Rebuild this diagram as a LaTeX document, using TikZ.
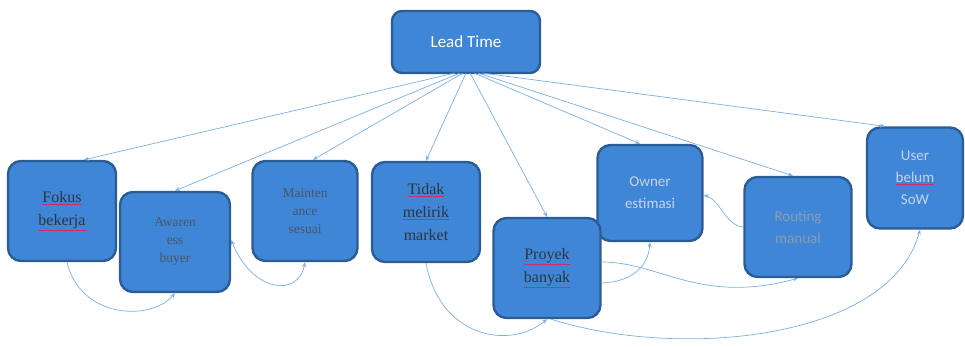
\documentclass[tikz,border=0pt]{standalone}
\usepackage{fontspec}
\setmainfont{Liberation Serif}
\newfontfamily\calib{Carlito}
\usetikzlibrary{arrows.meta}
\definecolor{boxblue}{HTML}{3F86D6}
\definecolor{boxedge}{HTML}{2C5C96}
\definecolor{linkblue}{HTML}{78B0E4}
\definecolor{txtdark}{HTML}{2E3440}
\definecolor{txtsoft}{HTML}{4A5566}
\definecolor{squig}{HTML}{C8306A}
\definecolor{sanslight}{HTML}{C6D3E4}
\definecolor{sansmid}{HTML}{8E9CB2}
\newcommand\sqw[1]{{\color{squig}\underline{\textcolor{txtdark}{#1}}}}
\tikzset{
  card/.style={draw=boxedge, line width=2.4pt, fill=boxblue, rounded corners=13pt,
    align=center, inner sep=2pt, font=\fontsize{16}{23}\selectfont, text=txtdark},
  smallcard/.style={card, font=\fontsize{13.5}{18}\selectfont, text=txtsoft},
  sanscard/.style={card, font=\calib\fontsize{15}{22}\selectfont, text=sanslight},
  link/.style={draw=linkblue, line width=0.7pt, -{Stealth[length=5pt,width=4pt]}},
  linkb/.style={draw=linkblue, line width=0.7pt, {Stealth[length=5pt,width=4pt]}-{Stealth[length=5pt,width=4pt]}}
}
\begin{document}
\begin{tikzpicture}[x=1pt,y=-1pt]
\useasboundingbox (0,0) rectangle (965,347);
% nodes
\node[sanscard, minimum width=148pt, minimum height=62pt, rounded corners=10pt, text=white, font=\calib\fontsize{17}{20}\selectfont] (lead) at (466,42) {Lead Time};
\node[card, minimum width=108pt, minimum height=100pt] (fokus) at (62,211) {\sqw{Fokus}\\ \sqw{bekerja}};
\node[smallcard, minimum width=110pt, minimum height=100pt] (aware) at (175,242) {Awaren\\ ess\\ buyer};
\node[smallcard, minimum width=105pt, minimum height=100pt] (maint) at (305,211) {Mainten\\ ance\\ sesuai};
\node[card, minimum width=108pt, minimum height=100pt] (tidak) at (426,212) {\sqw{Tidak}\\ \sqw{melirik}\\ market};
\node[sanscard, minimum width=105pt, minimum height=96pt] (owner) at (650,193) {Owner\\ estimasi};
\node[card, minimum width=107pt, minimum height=100pt] (proyek) at (547,268) {\sqw{Proyek}\\ \sqw{banyak}};
\node[sanscard, minimum width=107pt, minimum height=100pt, text=sansmid] (routing) at (798,227) {Routing\\ manual};
\node[sanscard, minimum width=96pt, minimum height=101pt, text=sanslight] (user) at (915,178) {User\\ \textcolor{squig}{\underline{\textcolor{sanslight}{belum}}}\\ SoW};
% fan-out points under Lead Time
\coordinate (l1) at (455,73);
\coordinate (l2) at (460,73);
\coordinate (l3) at (463,73);
\coordinate (l4) at (466,73);
\coordinate (l5) at (470,73);
\coordinate (l6) at (474,73);
\coordinate (l7) at (478,73);
\coordinate (l8) at (482,73);
\draw[link] (l1) -- ([xshift=22pt]fokus.north);
\draw[link] (l2) -- (aware.north);
\draw[link] (l3) -- ([xshift=8pt]maint.north);
\draw[link] (l4) -- (tidak.north);
\draw[link] (l5) -- (proyek.north);
\draw[link] (l6) -- ([xshift=-10pt]owner.north);
\draw[link] (l7) -- ([xshift=-5pt]routing.north);
\draw[link] (l8) -- ([xshift=-30pt]user.north);
% bottom curves
\draw[link] ([xshift=5pt]fokus.south) .. controls (80,318) and (150,322) .. (aware.south);
\draw[linkb] ([yshift=2pt]aware.east) .. controls (252,292) and (298,298) .. (maint.south);
\draw[link] (tidak.south) .. controls (440,338) and (510,350) .. (proyek.south);
\draw[link] ([xshift=4pt]proyek.south) .. controls (680,360) and (890,340) .. ([xshift=5pt]user.south);
\draw[link] ([yshift=-15pt]proyek.east) .. controls (630,282) and (648,268) .. (owner.south);
\draw[link] ([yshift=6pt]proyek.east) .. controls (660,262) and (700,305) .. (routing.south);
\draw[link] (routing.west) .. controls (726,226) and (720,200) .. ([yshift=-2pt]owner.east);
\end{tikzpicture}
\end{document}
